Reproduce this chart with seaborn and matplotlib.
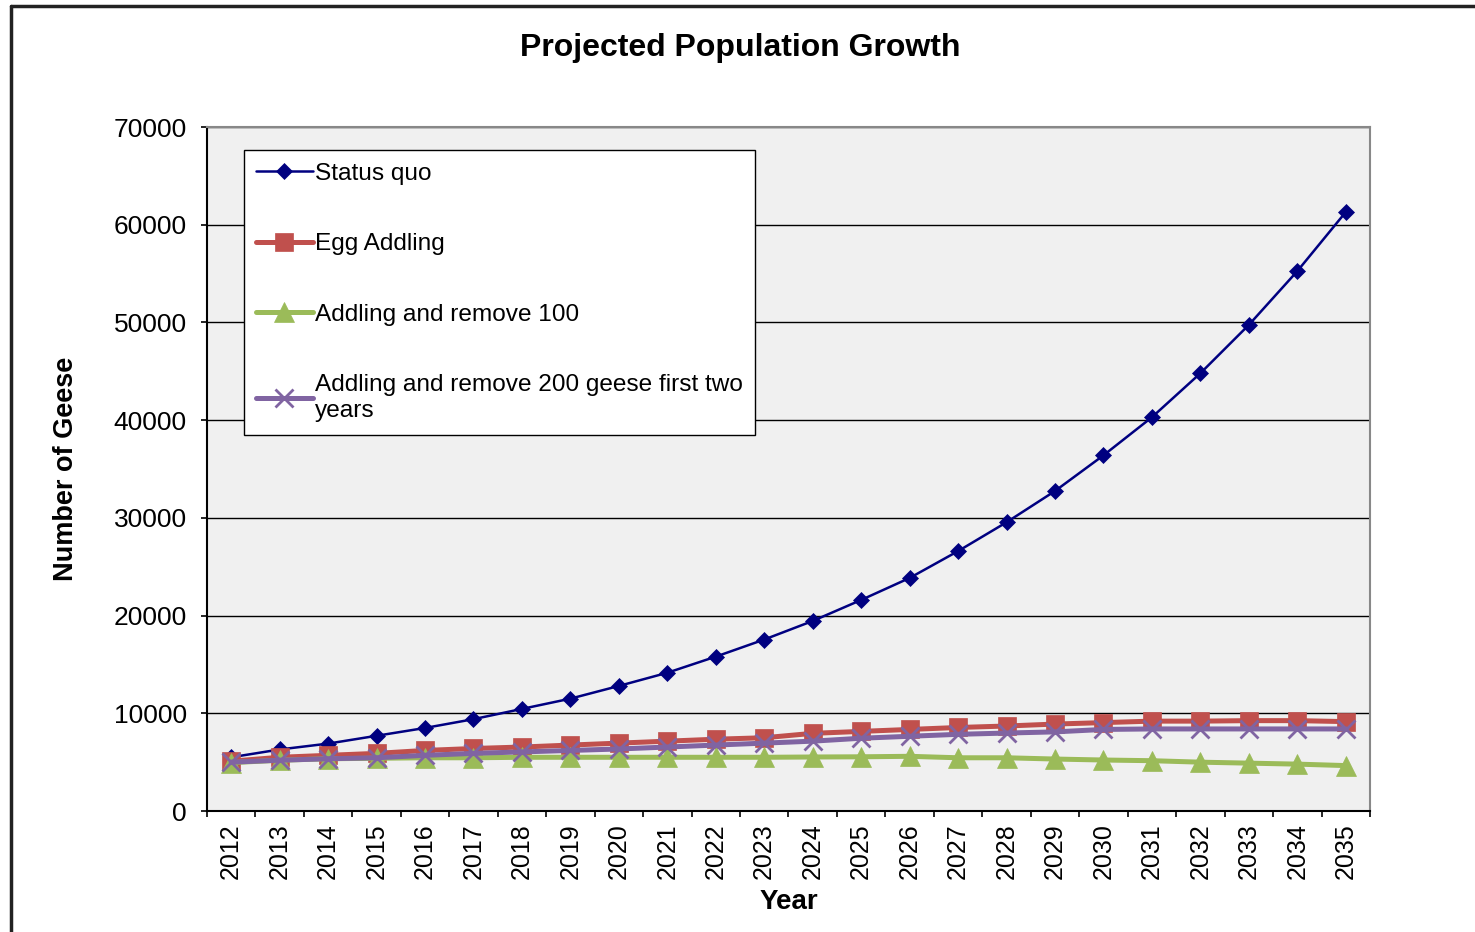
import matplotlib
matplotlib.use("Agg")
import matplotlib.pyplot as plt
import seaborn as sns
import pandas as pd
from matplotlib.lines import Line2D

years = list(range(2012, 2036))

status_quo = [5500, 6300, 6900, 7700, 8500, 9400, 10450, 11500, 12800, 14150,
              15800, 17550, 19450, 21600, 23850, 26600, 29550, 32750, 36400, 40300,
              44800, 49750, 55250, 61300]
egg_addling = [5100, 5500, 5700, 5900, 6200, 6400, 6550, 6750, 6950, 7150,
               7350, 7500, 7950, 8150, 8350, 8550, 8700, 8900, 9050, 9200,
               9200, 9250, 9250, 9150]
remove_100 = [4950, 5200, 5350, 5400, 5450, 5450, 5500, 5500, 5500, 5500,
              5500, 5500, 5530, 5550, 5600, 5450, 5450, 5320, 5220, 5150,
              5000, 4900, 4800, 4650]
remove_200 = [5000, 5200, 5350, 5450, 5700, 5900, 6050, 6200, 6350, 6550,
              6750, 6950, 7150, 7450, 7650, 7850, 7980, 8100, 8350, 8400,
              8400, 8400, 8400, 8400]

series_names = ["Status quo", "Egg Addling", "Addling and remove 100",
                "Addling and remove 200 geese first two\nyears"]
series_values = [status_quo, egg_addling, remove_100, remove_200]
colors = ["#000080", "#C0504D", "#9BBB59", "#8064A2"]
markers = ["D", "s", "^", "x"]
marker_sizes = [8.5, 13.5, 14.5, 12.5]
line_widths = [1.8, 3.6, 3.6, 3.6]

sns.set_theme(style="white")
plt.rcParams["font.family"] = ["Liberation Sans", "DejaVu Sans"]
plt.rcParams["text.color"] = "black"
plt.rcParams["axes.labelcolor"] = "black"
plt.rcParams["xtick.color"] = "black"
plt.rcParams["ytick.color"] = "black"

fig = plt.figure(figsize=(14.75, 9.32), dpi=100)
ax = fig.add_axes([0.1403, 0.1298, 0.9288 - 0.1403, 0.8637 - 0.1298])
ax.set_facecolor("#F0F0F0")

pos = list(range(len(years)))
for name, vals, c, m, ms, lw in zip(series_names, series_values, colors,
                                    markers, marker_sizes, line_widths):
    df = pd.DataFrame({"pos": pos, "value": vals})
    sns.lineplot(data=df, x="pos", y="value", ax=ax, color=c, marker=m,
                 markersize=ms, linewidth=lw, markeredgecolor=c,
                 markeredgewidth=2 if m == "x" else 0.5, label=name,
                 legend=False)

ax.set_xlim(-0.5, len(years) - 0.5)
ax.set_ylim(0, 70000)
ax.set_yticks(range(0, 70001, 10000))
ax.set_yticklabels([str(v) for v in range(0, 70001, 10000)], fontsize=19)
ax.set_xticks(pos)
ax.set_xticklabels([str(y) for y in years], rotation=90, fontsize=18)
ax.set_xticks([p - 0.5 for p in pos] + [len(years) - 0.5], minor=True)
ax.tick_params(axis="x", which="major", length=0, pad=9)
ax.tick_params(axis="x", which="minor", length=4.5, width=1.2, color="black",
               direction="out", bottom=True)
ax.tick_params(axis="y", length=4.5, width=1.2, color="black", direction="out",
               left=True, pad=10)

ax.yaxis.grid(True, color="black", linewidth=1.0)
ax.xaxis.grid(False)
ax.set_axisbelow(True)
for side in ["top", "right"]:
    ax.spines[side].set_color("#888888")
    ax.spines[side].set_linewidth(1.5)
for side in ["left", "bottom"]:
    ax.spines[side].set_color("black")
    ax.spines[side].set_linewidth(1.5)

ax.set_xlabel("Year", fontsize=20, fontweight="bold", labelpad=7)
ax.set_ylabel("Number of Geese", fontsize=19.5, fontweight="bold", labelpad=25)

fig.suptitle("Projected Population Growth", fontsize=23, fontweight="bold",
             x=0.502, y=0.965)

leg = ax.legend(loc="upper left", bbox_to_anchor=(0.032, 0.966), fontsize=17.6,
                frameon=True, fancybox=False, framealpha=1, edgecolor="black",
                labelspacing=1.98, handlelength=2.3, handletextpad=0.08,
                borderpad=0.5, borderaxespad=0)
leg.get_frame().set_linewidth(1.0)
for t in leg.get_texts():
    t.set_linespacing(1.25)

# outer chart border (left and top edges)
fig.add_artist(Line2D([11 / 1475, 11 / 1475], [0, 1 - 6 / 932],
                      transform=fig.transFigure, color="#222222", linewidth=2.5))
fig.add_artist(Line2D([11 / 1475, 1], [1 - 6 / 932, 1 - 6 / 932],
                      transform=fig.transFigure, color="#222222", linewidth=2.5))

fig.savefig("out.png", dpi=100, facecolor="white")
